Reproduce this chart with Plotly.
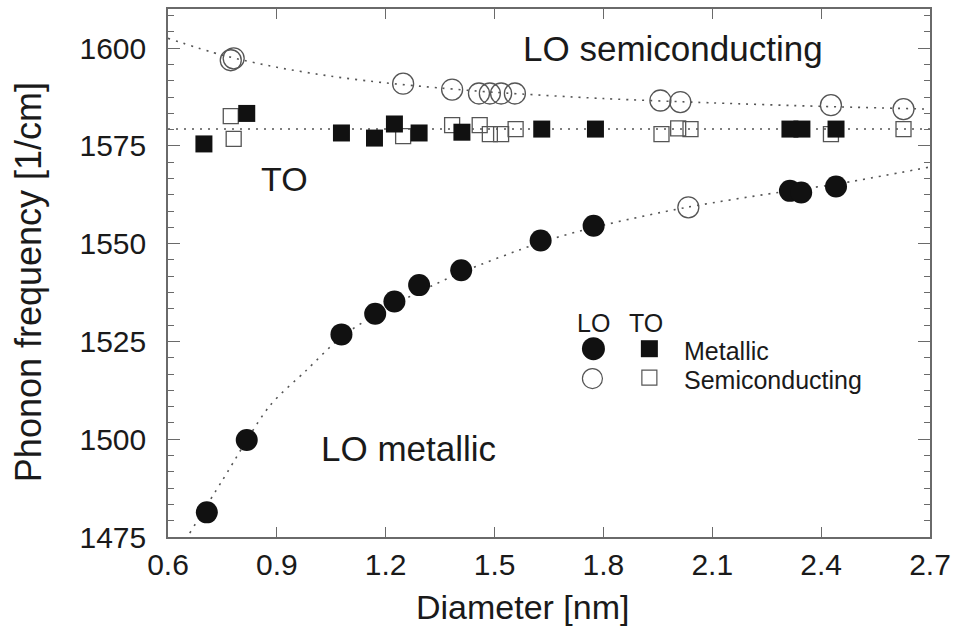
import plotly.graph_objects as go

# ---- data ----
lo_met_d = [0.707, 0.817, 1.078, 1.171, 1.224, 1.292, 1.408, 1.627, 1.773, 2.314, 2.345, 2.441]
lo_met_w = [1481.3, 1499.8, 1526.8, 1532.1, 1535.2, 1539.4, 1543.2, 1550.8, 1554.6, 1563.5, 1563.1, 1564.6]

lo_sem_d = [0.773, 0.781, 1.248, 1.383, 1.457, 1.487, 1.518, 1.556, 1.957, 2.012, 2.034, 2.427, 2.627]
lo_sem_w = [1596.9, 1597.4, 1590.9, 1589.4, 1588.4, 1588.4, 1588.4, 1588.4, 1586.6, 1586.2, 1559.3, 1585.4, 1584.4]

to_met_d = [0.699, 0.817, 1.078, 1.169, 1.224, 1.292, 1.410, 1.630, 1.778, 2.314, 2.347, 2.441]
to_met_w = [1575.5, 1583.3, 1578.3, 1577.0, 1580.6, 1578.3, 1578.5, 1579.3, 1579.3, 1579.3, 1579.3, 1579.3]

to_sem_d = [0.773, 0.781, 1.248, 1.383, 1.459, 1.487, 1.518, 1.558, 1.960, 2.006, 2.040, 2.427, 2.627]
to_sem_w = [1582.6, 1576.8, 1577.5, 1580.3, 1580.3, 1578.0, 1578.0, 1579.3, 1578.0, 1579.5, 1579.3, 1578.0, 1579.3]

# fit curves (dotted)
fit_sem_d = [0.6, 0.75, 0.9, 1.05, 1.2, 1.35, 1.5, 1.8, 2.1, 2.4, 2.7]
fit_sem_w = [1602.5, 1598.2, 1595.1, 1592.8, 1591.1, 1589.8, 1588.7, 1587.1, 1586.0, 1585.1, 1584.4]
fit_to_d = [0.6, 2.7]
fit_to_w = [1579.3, 1579.3]
fit_met_d = [0.66, 0.75, 0.88, 0.98, 1.08, 1.2, 1.4, 1.63, 1.78, 2.03, 2.31, 2.44, 2.7]
fit_met_w = [1476.0, 1489.5, 1508.5, 1517.5, 1526.3, 1533.3, 1542.3, 1550.4, 1554.3, 1559.3, 1563.5, 1565.2, 1569.6]

x_ticks = [0.6, 0.9, 1.2, 1.5, 1.8, 2.1, 2.4, 2.7]
y_ticks = [1475, 1500, 1525, 1550, 1575, 1600]

FONT = "Liberation Sans, Arial, sans-serif"
AX = "#6a6a6a"
DOT = "#555555"
TXT = "#1a1a1a"

fig = go.Figure()
for xs, ys in [(fit_sem_d, fit_sem_w), (fit_to_d, fit_to_w), (fit_met_d, fit_met_w)]:
    fig.add_trace(go.Scatter(x=xs, y=ys, mode="lines",
                             line=dict(color=DOT, width=1.6, dash="2px,6px", shape="spline", smoothing=0.8),
                             hoverinfo="skip", showlegend=False))

fig.add_trace(go.Scatter(x=to_sem_d, y=to_sem_w, mode="markers", showlegend=False,
                         marker=dict(symbol="square-open", size=15, color="#555", line=dict(width=1.3, color="#555"))))
fig.add_trace(go.Scatter(x=to_met_d, y=to_met_w, mode="markers", showlegend=False,
                         marker=dict(symbol="square", size=17, color="#111", line=dict(width=0))))
fig.add_trace(go.Scatter(x=lo_sem_d, y=lo_sem_w, mode="markers", showlegend=False,
                         marker=dict(symbol="circle-open", size=21, color="#555", line=dict(width=1.3, color="#555"))))
fig.add_trace(go.Scatter(x=lo_met_d, y=lo_met_w, mode="markers", showlegend=False,
                         marker=dict(symbol="circle", size=22, color="#111", line=dict(width=0))))

# custom legend (on overlay axes spanning the plot area, 0..1)
L, R, T, B = 168, 931, 7, 537
def px(xp): return (xp - L) / (R - L)
def py(yp): return (B - yp) / (B - T)

legend_keys = [
    (594, 348, "circle", 23, "#111", 0),
    (650, 348, "square", 17, "#111", 0),
    (593, 378, "circle-open", 20, "#555", 1.2),
    (650, 377, "square-open", 15, "#555", 1.2),
]
for lx, ly, sym, sz, col, lw in legend_keys:
    fig.add_trace(go.Scatter(x=[px(lx)], y=[py(ly)], xaxis="x2", yaxis="y2", mode="markers",
                             showlegend=False, hoverinfo="skip",
                             marker=dict(symbol=sym, size=sz, color=col, opacity=1,
                                         line=dict(width=lw, color=col))))

ann = []
def A(text, xp, yp, size, xanchor="center", angle=0):
    ann.append(dict(text=text, x=px(xp), y=py(yp), xref="paper", yref="paper", showarrow=False,
                    xanchor=xanchor, yanchor="middle", textangle=angle,
                    font=dict(family=FONT, size=size, color=TXT)))

A("LO semiconducting", 521, 47, 35, "left")
A("TO", 285, 178, 34)
A("LO metallic", 319, 448, 35, "left")
A("LO", 594, 322, 25)
A("TO", 647, 322, 25)
A("Metallic", 683, 350, 25, "left")
A("Semiconducting", 683, 379, 25, "left")
A("Diameter [nm]", 523, 607, 34)
A("Phonon frequency [1/cm]", 29, 281, 36, angle=-90)

axis_common = dict(showline=True, linecolor=AX, linewidth=1.5, mirror="ticks", ticks="inside",
                   tickcolor=AX, tickwidth=1.3, showgrid=False, zeroline=False,
                   tickfont=dict(family=FONT, size=30, color=TXT))

fig.update_layout(
    width=958, height=630,
    margin=dict(l=L, r=958 - R, t=T, b=630 - B),
    paper_bgcolor="white", plot_bgcolor="white",
    xaxis=dict(range=[0.6, 2.7], tickvals=x_ticks, ticktext=[f"{v:.1f}" for v in x_ticks],
               ticklen=10, ticklabelstandoff=0, **axis_common),
    yaxis=dict(range=[1475, 1610], tickvals=y_ticks, ticktext=[str(v) for v in y_ticks],
               ticklen=12, ticklabelstandoff=14,
               minor=dict(dtick=25 / 6, tick0=1475, ticks="inside", ticklen=6, tickcolor=AX, tickwidth=1.1),
               **axis_common),
    xaxis2=dict(overlaying="x", range=[0, 1], visible=False),
    yaxis2=dict(overlaying="y", range=[0, 1], visible=False),
    annotations=ann,
)

fig.write_html("out.html")
